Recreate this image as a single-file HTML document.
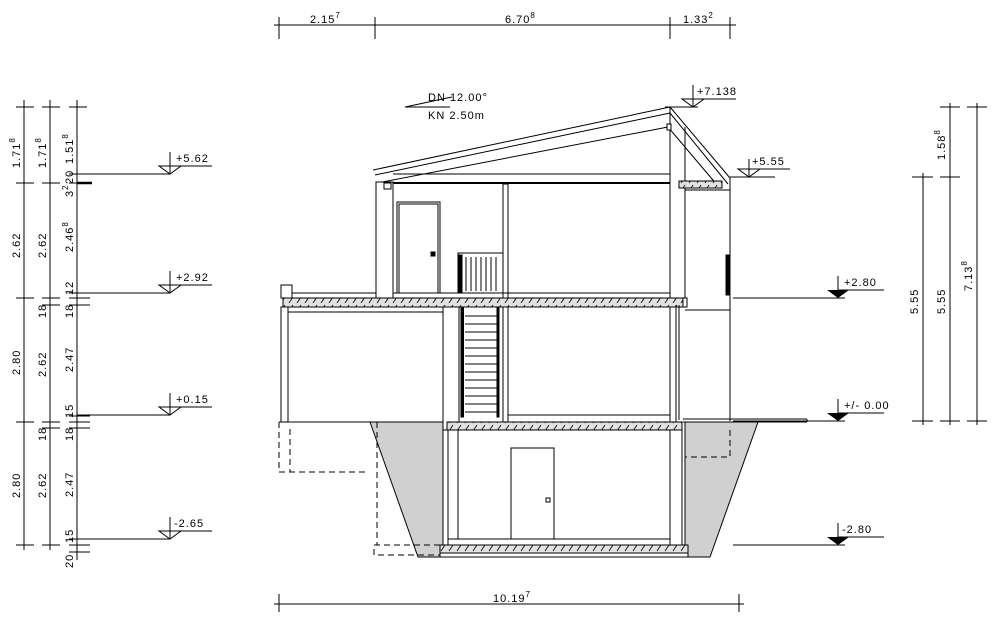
<!DOCTYPE html>
<html><head><meta charset="utf-8"><style>
html,body{margin:0;padding:0;background:#fff}
svg{display:block}
text{font-family:"Liberation Sans",sans-serif;font-size:11px;fill:#000;letter-spacing:1px}
</style></head><body>
<svg width="1000" height="631" viewBox="0 0 1000 631" xmlns="http://www.w3.org/2000/svg">
<defs>
<pattern id="h" width="8" height="8" patternUnits="userSpaceOnUse">
<rect width="8" height="8" fill="#e4e0e0"/>
<path d="M1 7 L5 1" stroke="#000" stroke-width="0.8"/>
</pattern>
</defs>
<g stroke="#000" stroke-width="1" fill="none">
<line x1="274" y1="25" x2="736" y2="25"/>
<line x1="279" y1="17" x2="279" y2="39"/><line x1="375" y1="17" x2="375" y2="39"/>
<line x1="670" y1="17" x2="670" y2="39"/><line x1="730" y1="17" x2="730" y2="39"/>
<line x1="274" y1="604" x2="744" y2="604"/>
<line x1="279" y1="594" x2="279" y2="612"/><line x1="739" y1="594" x2="739" y2="612"/>
<line x1="24" y1="100" x2="24" y2="550"/><line x1="50" y1="100" x2="50" y2="550"/><line x1="77" y1="100" x2="77" y2="560"/>
<g>
<line x1="16" y1="107" x2="34" y2="107"/><line x1="42" y1="107" x2="60" y2="107"/><line x1="69" y1="107" x2="87" y2="107"/>
<line x1="16" y1="183" x2="34" y2="183"/><line x1="42" y1="183" x2="60" y2="183"/><line x1="69" y1="183" x2="87" y2="183"/>
<line x1="16" y1="298" x2="34" y2="298"/><line x1="42" y1="298" x2="60" y2="298"/><line x1="69" y1="298" x2="90" y2="298"/>
<line x1="42" y1="305" x2="60" y2="305"/><line x1="69" y1="305" x2="90" y2="305"/><line x1="69" y1="293" x2="90" y2="293"/>
<line x1="16" y1="422" x2="34" y2="422"/><line x1="42" y1="422" x2="60" y2="422"/><line x1="69" y1="422" x2="90" y2="422"/>
<line x1="42" y1="428" x2="60" y2="428"/><line x1="69" y1="428" x2="90" y2="428"/><line x1="69" y1="416" x2="90" y2="416"/>
<line x1="16" y1="545" x2="34" y2="545"/><line x1="42" y1="545" x2="60" y2="545"/><line x1="69" y1="545" x2="90" y2="545"/>
<line x1="69" y1="539" x2="90" y2="539"/><line x1="69" y1="552" x2="90" y2="552"/><line x1="69" y1="174" x2="90" y2="174"/>
</g>
<line x1="77" y1="183" x2="92" y2="183" stroke-width="2.5"/>
<line x1="77" y1="174" x2="170" y2="174"/><line x1="170" y1="166" x2="212" y2="166"/><line x1="170" y1="152" x2="170" y2="174"/><path d="M159 166 L181 166 L170 174 Z"/>
<line x1="77" y1="293" x2="170" y2="293"/><line x1="170" y1="285" x2="212" y2="285"/><line x1="170" y1="271" x2="170" y2="293"/><path d="M159 285 L181 285 L170 293 Z"/>
<line x1="77" y1="415" x2="170" y2="415"/><line x1="170" y1="407" x2="212" y2="407"/><line x1="170" y1="393" x2="170" y2="415"/><path d="M159 407 L181 407 L170 415 Z"/>
<line x1="77" y1="539" x2="170" y2="539"/><line x1="170" y1="531" x2="212" y2="531"/><line x1="170" y1="517" x2="170" y2="539"/><path d="M159 531 L181 531 L170 539 Z"/>
<line x1="733" y1="298" x2="845" y2="298"/><line x1="838" y1="290" x2="884" y2="290"/><line x1="838" y1="276" x2="838" y2="298"/>
<line x1="733" y1="421" x2="845" y2="421"/><line x1="838" y1="413" x2="884" y2="413"/><line x1="838" y1="399" x2="838" y2="421"/>
<line x1="733" y1="545" x2="845" y2="545"/><line x1="838" y1="537" x2="884" y2="537"/><line x1="838" y1="523" x2="838" y2="545"/>
<line x1="730" y1="177" x2="775" y2="177"/><line x1="745" y1="169" x2="790" y2="169"/><line x1="749" y1="159" x2="749" y2="177"/><path d="M738 169 L760 169 L749 177 Z"/>
<line x1="665" y1="107" x2="698" y2="107"/><line x1="693" y1="99" x2="736" y2="99"/><line x1="693" y1="85" x2="693" y2="107"/><path d="M682 99 L704 99 L693 107 Z"/>
<line x1="923" y1="173" x2="923" y2="425"/><line x1="950" y1="103" x2="950" y2="425"/><line x1="977" y1="103" x2="977" y2="425"/>
<line x1="912" y1="177" x2="933" y2="177"/><line x1="940" y1="177" x2="960" y2="177"/>
<line x1="940" y1="107" x2="960" y2="107"/><line x1="967" y1="107" x2="987" y2="107"/>
<line x1="912" y1="421" x2="933" y2="421"/><line x1="940" y1="421" x2="960" y2="421"/><line x1="967" y1="421" x2="987" y2="421"/>
</g>
<g fill="#000">
<path d="M827 290 L849 290 L838 298 Z"/><path d="M827 413 L849 413 L838 421 Z"/><path d="M827 537 L849 537 L838 545 Z"/>
</g>
<g fill="#d0d0d0" stroke="#000">
<path d="M370 422 L443 422 L443 557 L418 557 Z"/>
<path d="M685 422 L758 422 L710 557 L685 557 Z"/>
</g>
<g stroke="#000" stroke-width="1" fill="#fff">
<path d="M373 170 L670 107 M375 175 L670 113 M377 183 L668 127" fill="none"/>
<path d="M670 107 L730 178 M670 113 L728 184 M668 127 L718 186" fill="none"/>
<line x1="670" y1="107" x2="670" y2="300"/>
<line x1="685" y1="127" x2="685" y2="300"/>
<rect x="667" y="124" width="4" height="6"/>
<rect x="679" y="181" width="43" height="7" fill="url(#h)"/>
<line x1="685" y1="190" x2="730" y2="190"/>
<line x1="730" y1="178" x2="730" y2="421"/>
<rect x="726" y="255" width="3" height="40" fill="#000"/>
<rect x="376" y="182" width="17" height="116"/>
<rect x="384" y="183" width="7" height="6"/>
<line x1="393" y1="174" x2="670" y2="174"/>
<line x1="393" y1="183" x2="670" y2="183" stroke-width="2"/>
<rect x="503" y="184" width="5" height="114"/>
<rect x="397" y="202" width="43" height="91" fill="none"/>
<rect x="399" y="204" width="39" height="89" fill="none"/>
<rect x="431" y="252" width="4" height="4" fill="#000"/>
<line x1="393" y1="293" x2="670" y2="293"/>
<rect x="458" y="253" width="45" height="40" fill="none"/>
<rect x="458" y="255" width="4" height="38" fill="#000"/>
<g fill="none"><line x1="466" y1="257" x2="466" y2="291"/><line x1="471" y1="257" x2="471" y2="291"/><line x1="476" y1="257" x2="476" y2="291"/><line x1="481" y1="257" x2="481" y2="291"/><line x1="486" y1="257" x2="486" y2="291"/><line x1="491" y1="257" x2="491" y2="291"/><line x1="496" y1="257" x2="496" y2="291"/></g>
<rect x="281" y="285" width="11" height="13"/>
<line x1="292" y1="293" x2="376" y2="293"/>
<rect x="283" y="298" width="400" height="9" fill="url(#h)"/>
<rect x="683" y="298" width="4" height="9"/>
<line x1="685" y1="310" x2="730" y2="310"/>
<line x1="676" y1="305" x2="676" y2="420"/><line x1="679" y1="305" x2="679" y2="420"/>
<rect x="281" y="307" width="7" height="115"/>
<rect x="288" y="312" width="155" height="110"/>
<line x1="443" y1="307" x2="443" y2="422"/>
<rect x="459" y="307" width="44" height="115"/>
<rect x="461" y="307" width="2.5" height="110" fill="#000"/>
<rect x="497" y="307" width="2" height="110" fill="#000"/>
<g fill="none">
<line x1="465" y1="316" x2="497" y2="316"/><line x1="465" y1="324" x2="497" y2="324"/><line x1="465" y1="332" x2="497" y2="332"/><line x1="465" y1="340" x2="497" y2="340"/><line x1="465" y1="348" x2="497" y2="348"/><line x1="465" y1="356" x2="497" y2="356"/><line x1="465" y1="364" x2="497" y2="364"/><line x1="465" y1="372" x2="497" y2="372"/><line x1="465" y1="380" x2="497" y2="380"/><line x1="465" y1="388" x2="497" y2="388"/><line x1="465" y1="396" x2="497" y2="396"/><line x1="465" y1="404" x2="497" y2="404"/><line x1="465" y1="412" x2="497" y2="412"/>
</g>
<rect x="503" y="307" width="5" height="115"/>
<line x1="508" y1="415" x2="670" y2="415"/>
<rect x="670" y="307" width="6" height="115"/>
<line x1="683" y1="419" x2="807" y2="419"/><line x1="683" y1="422" x2="807" y2="422"/>
<line x1="807" y1="419" x2="807" y2="422"/>
<line x1="279" y1="422" x2="443" y2="422"/>
<rect x="447" y="422" width="235" height="8" fill="url(#h)"/>
<rect x="443" y="430" width="5" height="115"/>
<rect x="448" y="430" width="10" height="109"/>
<rect x="670" y="430" width="12" height="115"/>
<line x1="682" y1="422" x2="682" y2="545"/>
<line x1="458" y1="539" x2="670" y2="539"/>
<rect x="511" y="448" width="43" height="91"/>
<rect x="546" y="498" width="4" height="4" fill="none"/>
<rect x="440" y="545" width="248" height="8" fill="url(#h)"/>
<rect x="440" y="553" width="248" height="4"/>
</g>
<g stroke="#000" fill="none" stroke-dasharray="6,4">
<path d="M279 422 L279 472 L367 472"/>
<path d="M290 429 L290 472"/>
<path d="M377 422 L377 545 L374 545 L374 555 L440 555"/>
<path d="M374 545 L440 545"/>
<path d="M730 430 L730 457 L685 457"/>
</g>
<g stroke="#000"><line x1="405" y1="107" x2="450" y2="107"/><line x1="405" y1="107" x2="452" y2="97"/></g>
<text x="428" y="101" font-size="12">DN 12.00°</text>
<text x="428" y="119" font-size="12">KN 2.50m</text>
<text x="310" y="23">2.15<tspan font-size="8" dy="-5">7</tspan></text>
<text x="505" y="23">6.70<tspan font-size="8" dy="-5">8</tspan></text>
<text x="683" y="23">1.33<tspan font-size="8" dy="-5">2</tspan></text>
<text x="493" y="602">10.19<tspan font-size="8" dy="-5">7</tspan></text>
<text x="176" y="162">+5.62</text><text x="176" y="281">+2.92</text><text x="176" y="403">+0.15</text><text x="174" y="527">-2.65</text>
<text x="844" y="286">+2.80</text><text x="844" y="409">+/- 0.00</text><text x="842" y="533">-2.80</text>
<text x="752" y="165">+5.55</text><text x="697" y="95">+7.138</text>
<g>
<text transform="translate(20,168) rotate(-90)">1.71<tspan font-size="8" dy="-5">8</tspan></text>
<text transform="translate(20,258) rotate(-90)">2.62</text>
<text transform="translate(20,375) rotate(-90)">2.80</text>
<text transform="translate(20,498) rotate(-90)">2.80</text>
<text transform="translate(46,168) rotate(-90)">1.71<tspan font-size="8" dy="-5">8</tspan></text>
<text transform="translate(46,258) rotate(-90)">2.62</text>
<text transform="translate(46,318) rotate(-90)">18</text>
<text transform="translate(46,377) rotate(-90)">2.62</text>
<text transform="translate(46,441) rotate(-90)">18</text>
<text transform="translate(46,498) rotate(-90)">2.62</text>
<text transform="translate(73,164) rotate(-90)">1.51<tspan font-size="8" dy="-5">8</tspan></text>
<text transform="translate(73,184) rotate(-90)">20</text>
<text transform="translate(73,197) rotate(-90)">3<tspan font-size="8" dy="-5">2</tspan></text>
<text transform="translate(73,252) rotate(-90)">2.46<tspan font-size="8" dy="-5">8</tspan></text>
<text transform="translate(73,295) rotate(-90)">12</text>
<text transform="translate(73,318) rotate(-90)">18</text>
<text transform="translate(73,372) rotate(-90)">2.47</text>
<text transform="translate(73,418) rotate(-90)">15</text>
<text transform="translate(73,441) rotate(-90)">18</text>
<text transform="translate(73,497) rotate(-90)">2.47</text>
<text transform="translate(73,543) rotate(-90)">15</text>
<text transform="translate(73,568) rotate(-90)">20</text>
<text transform="translate(918,314) rotate(-90)">5.55</text>
<text transform="translate(945,314) rotate(-90)">5.55</text>
<text transform="translate(972,291) rotate(-90)">7.13<tspan font-size="8" dy="-5">8</tspan></text>
<text transform="translate(945,160) rotate(-90)">1.58<tspan font-size="8" dy="-5">8</tspan></text>
</g>
</svg>
</body></html>
